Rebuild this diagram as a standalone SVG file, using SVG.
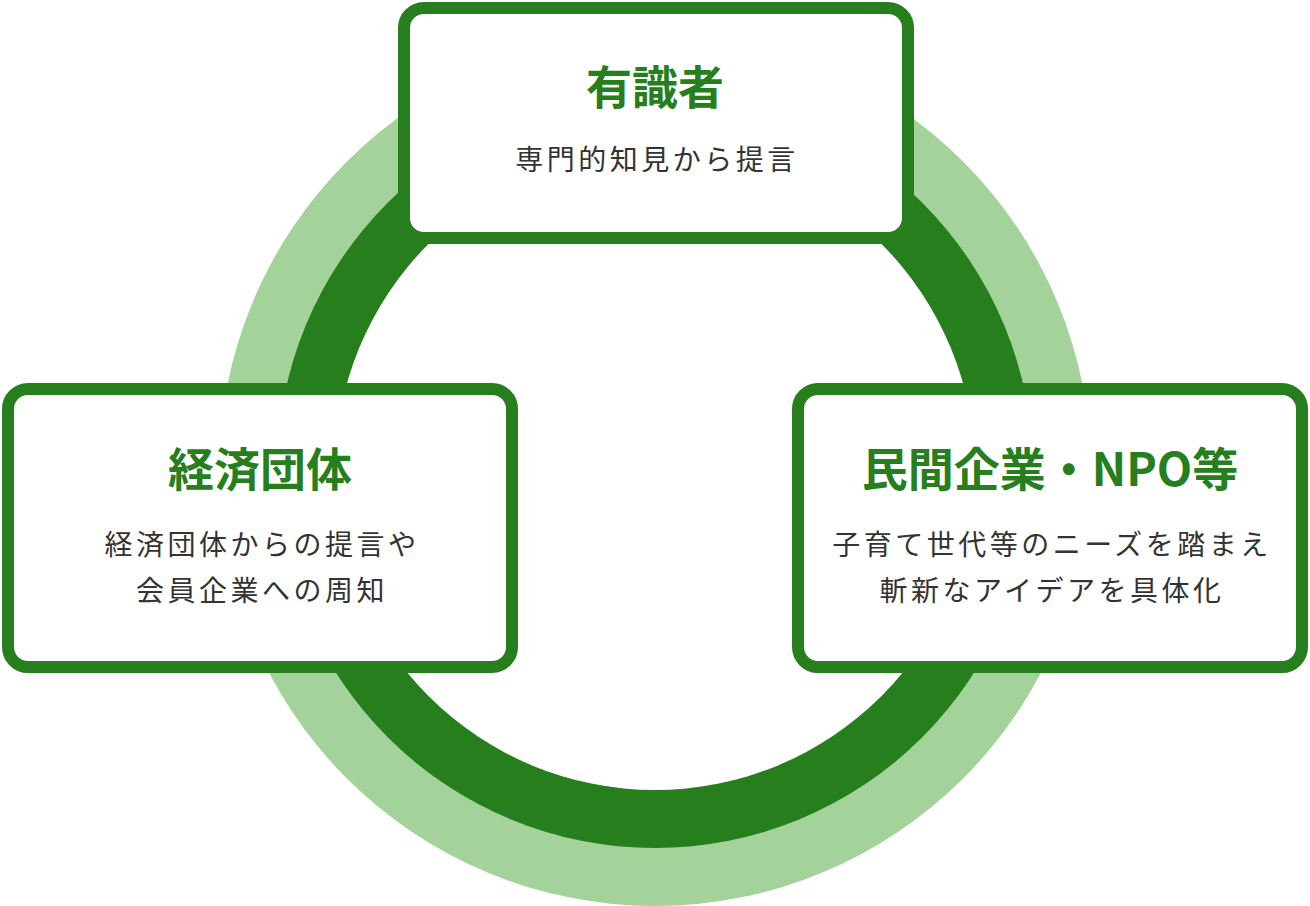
<svg xmlns="http://www.w3.org/2000/svg" width="1310" height="906" viewBox="0 0 1310 906">
<style>
.box{fill:#fff;stroke:#277e1d;stroke-width:12}
.t{font-family:"Noto Sans CJK JP","Noto Sans",sans-serif;font-weight:700;font-size:46px;fill:#277e1d;text-anchor:middle}
.s{font-family:"Noto Sans CJK JP","Noto Sans",sans-serif;font-size:28px;fill:#333;text-anchor:middle;letter-spacing:3.5px}
</style>
<rect width="1310" height="906" fill="#fff"/>
<g id="connectors">
<circle cx="655" cy="470" r="436" fill="#a3d39b"/>
<circle cx="655" cy="470" r="378" fill="#277e1d"/>
<circle cx="655" cy="470" r="320" fill="#fff"/>
</g>
<g id="n1">
<rect class="box" x="404" y="8" width="504" height="230" rx="20"/>
<text class="t" x="655" y="104">有識者</text>
<text class="s" x="657" y="170">専門的知見から提言</text>
</g>
<g id="n2">
<rect class="box" x="8" y="389" width="504" height="278" rx="20"/>
<text class="t" x="260" y="486">経済団体</text>
<text class="s" x="262" y="555">経済団体からの提言や</text>
<text class="s" x="262" y="601">会員企業への周知</text>
</g>
<g id="n3">
<rect class="box" x="798" y="389" width="504" height="278" rx="20"/>
<text class="t" x="1050" y="486">民間企業・NPO等</text>
<text class="s" x="1052" y="555">子育て世代等のニーズを踏まえ</text>
<text class="s" x="1052" y="601">斬新なアイデアを具体化</text>
</g>
</svg>
